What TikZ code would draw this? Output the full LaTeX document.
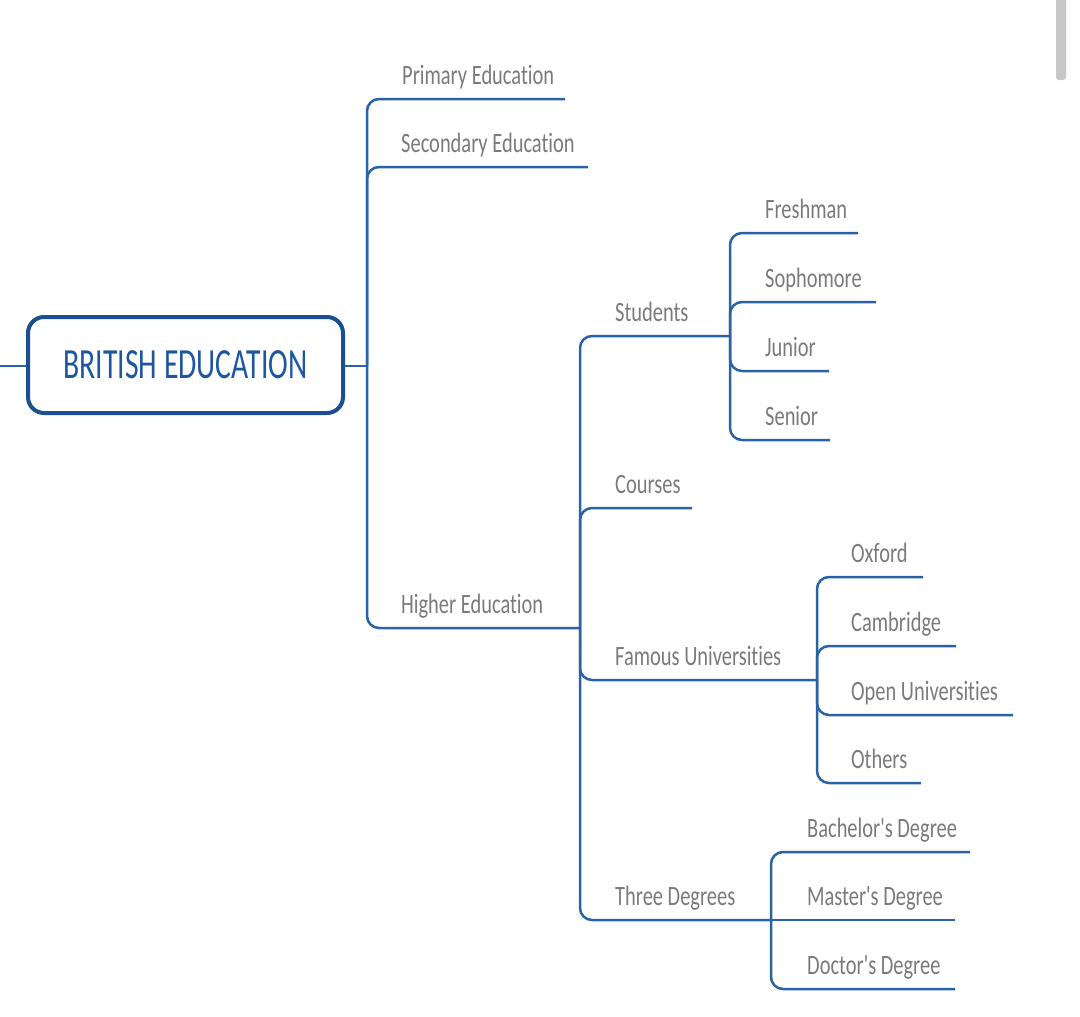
\documentclass[tikz,border=0pt]{standalone}
\usepackage{fontspec}
\newfontfamily\labfont[FakeStretch=0.73,Ligatures=NoCommon]{Carlito}
\newfontfamily\rootfont[FakeStretch=0.69,Ligatures=NoCommon]{Carlito}
\definecolor{lineblue}{HTML}{2B62A6}
\definecolor{rootblue}{HTML}{1E56A0}
\definecolor{rootline}{HTML}{1B4F93}
\definecolor{txtgray}{HTML}{7A7A7A}
\begin{document}
\begin{tikzpicture}[x=1pt,y=-1pt,
  br/.style={draw=lineblue,line width=2.5pt,rounded corners=12pt},
  lab/.style={anchor=base west,inner sep=0pt,font=\labfont\fontsize{28}{30}\selectfont,text=txtgray},
  rootbox/.style={draw=rootline,line width=4pt,rounded corners=16pt,fill=white,
    minimum width=315pt,minimum height=96pt,inner sep=0pt,
    font=\rootfont\fontsize{43}{46}\selectfont,text=rootblue}]
\useasboundingbox (0,0) rectangle (1080,1017);
\fill[black!22,rounded corners=3pt] (1056,-5) rectangle (1066,80);

% root
\node[rootbox] (root) at (185.5,365) {BRITISH EDUCATION};
\coordinate (lft) at (0,366);
\coordinate (j1) at (367,366);
\draw[br] (lft) -- (root.west|-lft);
\draw[br] (root.east|-j1) -- (j1);

% level 1
\node[lab] (pe) at (402,84) {Primary Education};
\node[lab] (se) at (401,152) {Secondary Education};
\node[lab] (he) at (401,613) {Higher Education};
\coordinate (pe-e) at (565,99);
\coordinate (se-e) at (588,167);
\coordinate (j2) at (580,628);
\draw[br] (j1) |- (pe-e);
\draw[br] (j1) |- (se-e);
\draw[br] (j1) |- (j2);

% level 2
\node[lab] (st) at (615,321) {Students};
\node[lab] (co) at (615,493) {Courses};
\node[lab] (fu) at (615,665) {Famous Universities};
\node[lab] (td) at (615,905) {Three Degrees};
\coordinate (js) at (730,336);
\coordinate (co-e) at (692,508);
\coordinate (jf) at (817,680);
\coordinate (jd) at (771,920);
\draw[br] (j2) |- (js);
\draw[br] (j2) |- (co-e);
\draw[br] (j2) |- (jf);
\draw[br] (j2) |- (jd);

% students
\node[lab] (fr) at (765,218) {Freshman};
\node[lab] (so) at (765,287) {Sophomore};
\node[lab] (ju) at (765,356) {Junior};
\node[lab] (sn) at (765,425) {Senior};
\coordinate (fr-e) at (858,233);
\coordinate (so-e) at (876,302);
\coordinate (ju-e) at (829,371);
\coordinate (sn-e) at (830,440);
\draw[br] (js) |- (fr-e);
\draw[br] (js) |- (so-e);
\draw[br] (js) |- (ju-e);
\draw[br] (js) |- (sn-e);

% famous universities
\node[lab] (ox) at (851,562) {Oxford};
\node[lab] (ca) at (851,631) {Cambridge};
\node[lab] (ou) at (851,700) {Open Universities};
\node[lab] (ot) at (851,768) {Others};
\coordinate (ox-e) at (923,577);
\coordinate (ca-e) at (956,646);
\coordinate (ou-e) at (1013,715);
\coordinate (ot-e) at (921,783);
\draw[br] (jf) |- (ox-e);
\draw[br] (jf) |- (ca-e);
\draw[br] (jf) |- (ou-e);
\draw[br] (jf) |- (ot-e);

% degrees
\node[lab] (ba) at (807,837) {Bachelor's Degree};
\node[lab] (ma) at (807,905) {Master's Degree};
\node[lab] (dr) at (807,974) {Doctor's Degree};
\coordinate (ba-e) at (970,852);
\coordinate (ma-e) at (955,920);
\coordinate (dr-e) at (955,989);
\draw[br] (jd) |- (ba-e);
\draw[br] (jd) -- (ma-e);
\draw[br] (jd) |- (dr-e);
\end{tikzpicture}
\end{document}
